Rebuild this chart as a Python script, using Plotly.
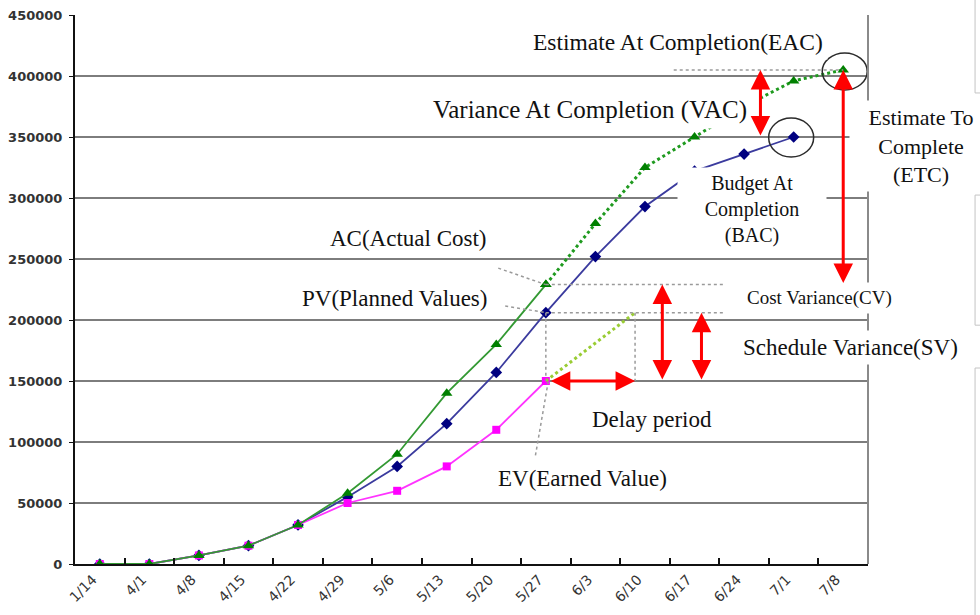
import plotly.graph_objects as go

# Weekly reporting dates (category axis)
dates = ["1/14", "4/1", "4/8", "4/15", "4/22", "4/29", "5/6", "5/13",
         "5/20", "5/27", "6/3", "6/10", "6/17", "6/24", "7/1", "7/8"]

# Planned Value (baseline) through 7/1
pv = [0, 0, 7000, 15000, 32000, 55000, 80000, 115000, 157000, 206000,
      252000, 293000, 322000, 336000, 350000]
# Actual Cost to date (through 5/27)
ac = [0, 0, 7000, 15000, 32000, 58000, 90000, 140000, 180000, 229000]
# Forecast of cost from 5/27 to completion (EAC path)
ac_forecast = [229000, 279000, 325000, 350000, 375000, 396000, 405000]
# Earned Value to date (through 5/27)
ev = [0, 0, 7000, 15000, 32000, 50000, 60000, 80000, 110000, 150000]

# Status date index and the point in time where PV equals today's PV
now = len(ev) - 1
delay_end = 10.8

bac = pv[-1]
eac = ac_forecast[-1]
ac_now = ac[now]
ev_now = ev[now]
pv_now = pv[now]

x_idx = list(range(len(dates)))

fig = go.Figure()

fig.add_trace(go.Scatter(
    x=x_idx[:len(pv)], y=pv, mode="lines+markers", name="PV",
    line=dict(color="#3b3b9e", width=1.8),
    marker=dict(symbol="diamond", size=9, color="#000080")))
fig.add_trace(go.Scatter(
    x=x_idx[:len(ev)], y=ev, mode="lines+markers", name="EV",
    line=dict(color="#ff33ff", width=1.8),
    marker=dict(symbol="square", size=8, color="#ff00ff")))
fig.add_trace(go.Scatter(
    x=[now, delay_end], y=[ev_now, pv_now], mode="lines", name="ES",
    line=dict(color="#99cc33", width=3, dash="dot")))
fig.add_trace(go.Scatter(
    x=x_idx[now:now + len(ac_forecast)], y=ac_forecast, mode="lines+markers",
    name="EAC", line=dict(color="#1f9a1f", width=3, dash="dot"),
    marker=dict(symbol="triangle-up", size=10, color="#008000")))
fig.add_trace(go.Scatter(
    x=x_idx[:len(ac)], y=ac, mode="lines+markers", name="AC",
    line=dict(color="#339933", width=1.8),
    marker=dict(symbol="triangle-up", size=10, color="#008000")))

# Gray dotted guide lines
guide = dict(color="#9a9a9a", width=1.5, dash="dot")
guides = [
    (11.58, eac, len(dates) - 1, eac),
    (now, ac_now, 12.6, ac_now),
    (now, pv_now, 12.6, pv_now),
    (now, pv_now, now, ev_now),
    (delay_end, pv_now, delay_end, ev_now),
    (8.04, 242500, now, ac_now),
    (8.18, 211500, now, pv_now),
    (8.79, 89000, now + 0.05, ev_now),
]
for x0, y0, x1, y1 in guides:
    fig.add_shape(type="line", xref="x", yref="y", x0=x0, y0=y0, x1=x1, y1=y1,
                  line=guide, layer="above")

# Circles around BAC and EAC
fig.add_shape(type="circle", xref="x", yref="y", xsizemode="pixel",
              ysizemode="pixel", xanchor=len(pv) - 1, yanchor=bac,
              x0=-25, x1=20, y0=-20, y1=19,
              line=dict(color="#2b2b2b", width=1.5))
fig.add_shape(type="circle", xref="x", yref="y", xsizemode="pixel",
              ysizemode="pixel", xanchor=len(dates) - 1, yanchor=eac,
              x0=-21, x1=24, y0=-20, y1=17,
              line=dict(color="#2b2b2b", width=1.5))

# Right border of the plotting frame
fig.add_shape(type="line", xref="paper", yref="paper", x0=1, x1=1, y0=0, y1=1,
              line=dict(color="#8a8a8a", width=2))

# Fragments of neighbouring boxes on the right edge
frag = dict(color="#c4c4c4", width=1)
for x0, y0, x1, y1 in [
    (1.135, 1.03, 1.135, 0.858), (1.135, 0.858, 1.2, 0.858),
    (1.135, 0.672, 1.2, 0.672), (1.135, 0.672, 1.135, 0.435),
    (1.135, 0.435, 1.2, 0.435),
    (1.135, 0.357, 1.2, 0.357), (1.135, 0.357, 1.135, -0.1),
]:
    fig.add_shape(type="line", xref="paper", yref="paper",
                  x0=x0, y0=y0, x1=x1, y1=y1, line=frag)


def px(x):
    return (x - 75) / 793


def py(y):
    return (564 - y) / 549


# Text labels (white boxes hide whatever lies behind them)
serif = "Liberation Serif, Times New Roman, serif"
labels = [
    ("Estimate At Completion(EAC)", 678, 42, 23.5, None),
    ("Variance At Completion (VAC)", 590, 110, 25, 330),
    ("AC(Actual Cost)", 408, 238, 23, None),
    ("PV(Planned Values)", 394, 298, 23, None),
    ("Cost Variance(CV)", 819, 298, 19, None),
    ("Schedule Variance(SV)", 850, 347, 23, None),
    ("Delay period", 652, 419, 23, None),
    ("EV(Earned Value)", 582, 478, 23, None),
    ("Budget At<br>Completion<br>(BAC)", 752, 209, 20, 140),
    ("Estimate To<br>Complete<br>(ETC)", 921, 146, 22, 134),
]
for text, x, y, size, w in labels:
    kw = dict(width=w) if w else {}
    fig.add_annotation(x=px(x), y=py(y), xref="paper", yref="paper",
                       text=text, showarrow=False, xanchor="center",
                       yanchor="middle", bgcolor="white", borderpad=4,
                       font=dict(family=serif, size=size, color="#111111"),
                       **kw)


def double_arrow(x0, y0, x1, y1):
    fig.add_annotation(x=x1, y=y1, ax=x0, ay=y0, xref="x", yref="y",
                       axref="x", ayref="y", text="", showarrow=True,
                       arrowhead=2, startarrowhead=2, arrowside="end+start",
                       arrowsize=1.3, startarrowsize=1.3, arrowwidth=3,
                       arrowcolor="#ff0000", standoff=0, startstandoff=0)


double_arrow(now + 0.07, ev_now, delay_end, ev_now)     # delay period
double_arrow(11.35, ev_now, 11.35, ac_now)              # CV
double_arrow(12.14, ev_now, 12.14, pv_now)              # SV
double_arrow(13.33, bac, 13.33, eac)                    # VAC
double_arrow(len(dates) - 1, ac_now, len(dates) - 1, eac)  # ETC

fig.update_layout(
    width=980, height=615,
    margin=dict(l=75, r=112, t=15, b=51),
    plot_bgcolor="white", paper_bgcolor="white",
    showlegend=False,
    xaxis=dict(
        range=[-0.5, len(dates) - 0.5], tickmode="array",
        tickvals=x_idx, ticktext=dates, tickangle=-45, ticks="",
        ticklabelshift=-7, automargin=False,
        showgrid=False, zeroline=False, showline=True,
        linecolor="#111111", linewidth=2,
        tickfont=dict(family="DejaVu Sans", size=14, color="#333333"),
        minor=dict(tickvals=[i + 0.5 for i in x_idx[:-1]], ticks="inside",
                   ticklen=6, tickcolor="#111111", tickwidth=1.5,
                   showgrid=False),
    ),
    yaxis=dict(
        range=[0, 450000], tickmode="linear", tick0=0, dtick=50000,
        tickformat="d", ticks="outside", ticklen=4, tickcolor="#111111",
        ticklabelstandoff=4, automargin=False,
        showgrid=True, gridcolor="#7d7d7d", gridwidth=2,
        zeroline=False, showline=True, linecolor="#111111", linewidth=2,
        tickfont=dict(family="DejaVu Sans", size=13, color="#333333",
                      weight="bold"),
    ),
)

fig.write_html("out.html")
